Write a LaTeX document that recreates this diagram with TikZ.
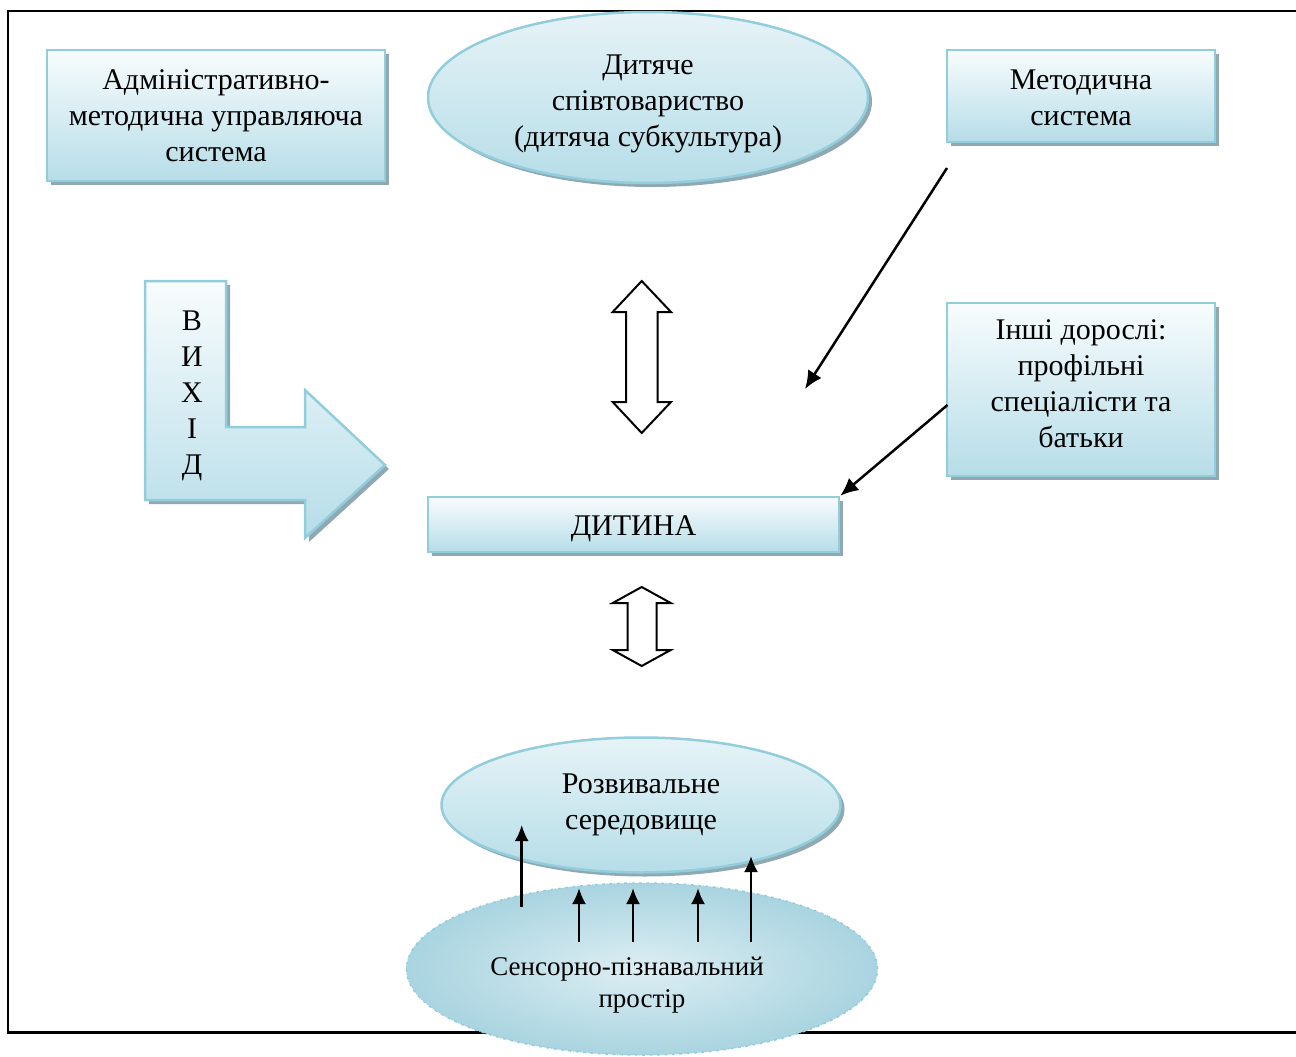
\documentclass[tikz,border=0pt]{standalone}
\usepackage{fontspec}
\setmainfont{Liberation Serif}
\usetikzlibrary{shapes.geometric,shadows,arrows.meta}
\definecolor{bordc}{HTML}{92CDDC}
\definecolor{fillb}{HTML}{B6DDE8}
\definecolor{fillt}{HTML}{F8FCFD}
\definecolor{ellt}{HTML}{E6F3F7}
\definecolor{shadc}{HTML}{8FA8B2}
\definecolor{sensin}{HTML}{DDEEF3}
\definecolor{sensout}{HTML}{A9D4E0}
\begin{document}
\begin{tikzpicture}[x=1pt,y=-1pt,
  every node/.style={font=\fontsize{30pt}{36pt}\selectfont, align=center, inner sep=0pt},
  shadowed/.style={drop shadow={shadow xshift=4pt, shadow yshift=-4pt, fill=shadc, opacity=1}},
  boxst/.style={rectangle, draw=bordc, line width=2.5pt, top color=fillt, bottom color=fillb, shadowed},
  ellst/.style={ellipse, draw=bordc, line width=2.5pt, top color=ellt, bottom color=fillb, shadowed},
  sensst/.style={ellipse, draw=bordc, dash dot, line width=1.5pt, inner color=sensin, outer color=sensout},
  blockarrow/.style={draw=black, line width=2pt, fill=white, line join=miter},
  arr/.style={line width=2.5pt, -{Latex[length=16pt,width=14pt]}},
  diag/.style={line width=2.5pt, -{Latex[length=18pt,width=16pt]}}
]
\useasboundingbox (0,0) rectangle (1296,1057);
% frame
\draw[line width=2.2pt] (1296,11) -- (8,11) -- (8,1032.5) -- (1296,1032.5);

% boxes and ellipses
\node[boxst, minimum width=338pt, minimum height=131pt] (adm) at (216,115.5) {};
\node (admtext) at (216,115.5) {Адміністративно-\\методична управляюча\\система};
\node[ellst, minimum width=440pt, minimum height=171pt] (kid) at (648,97.5) {};
\node (kidtext) at (648,103.5) {Дитяче\\співтовариство\\(дитяча субкультура)};
\node[boxst, minimum width=268pt, minimum height=92pt] (met) at (1081,96) {};
\node (mettext) at (1081,98) {Методична\\система};
\node[boxst, minimum width=268pt, minimum height=173pt] (other) at (1081,389.5) {};
\node (othertext) at (1081,383.5) {Інші дорослі:\\профільні\\спеціалісти та\\батьки};
\node[boxst, minimum width=411pt, minimum height=55pt] (child) at (633.5,524.5) {};
\node (childtext) at (633.5,528.5) {ДИТИНА};
\node[ellst, minimum width=399pt, minimum height=135pt] (env) at (641,805) {};
\node (envtext) at (641,805) {Розвивальне\\середовище};
\node[sensst, minimum width=471pt, minimum height=172pt] (sens) at (642,969) {};
\node[font=\fontsize{27pt}{32pt}\selectfont] (senstext) at (642,985) {Сенсорно-пізнавальний\hspace*{30pt}\\простір};

% L-shaped arrow "ВИХІД"
\fill[shadc, shift={(4,4)}] (145,281) -- (226,281) -- (226,427) -- (305,427) -- (305,390)
  -- (385,465) -- (305,538) -- (305,500) -- (145,500) -- cycle;
\draw[bordc, line width=2.5pt, top color=fillt, bottom color=fillb, line join=miter]
  (145,281) -- (226,281) -- (226,427) -- (305,427) -- (305,390)
  -- (385,465) -- (305,538) -- (305,500) -- (145,500) -- cycle;
\node (vyhid) at (192,396) {В\\И\\Х\\І\\Д};

% double block arrows
\draw[blockarrow] (641.7,281) -- (671,312) -- (657.5,312) -- (657.5,402) -- (671,402)
  -- (641.7,433) -- (612.7,402) -- (626,402) -- (626,312) -- (612.7,312) -- cycle;
\draw[blockarrow] (641.7,587) -- (670.7,603) -- (656.7,603) -- (656.7,650) -- (670.7,650)
  -- (641.7,666) -- (612.7,650) -- (627.7,650) -- (627.7,603) -- (612.7,603) -- cycle;

% diagonal arrows
\coordinate (m1) at (947,168);
\coordinate (m2) at (805,389);
\draw[diag] (m1) -- (m2);
\coordinate (o1) at (947.5,405);
\draw[diag] (o1) -- (child.north east);

% small upward arrows
\coordinate (s1) at (521.7,907);  \coordinate (e1) at (521.7,825);
\coordinate (s2) at (579,942);    \coordinate (e2) at (579,888);
\coordinate (s3) at (633,942);    \coordinate (e3) at (633,888);
\coordinate (s4) at (698,942);    \coordinate (e4) at (698,888);
\coordinate (s5) at (751,942);    \coordinate (e5) at (751,856);
\foreach \i in {1,...,5} \draw[arr] (s\i) -- (e\i);
\end{tikzpicture}
\end{document}
